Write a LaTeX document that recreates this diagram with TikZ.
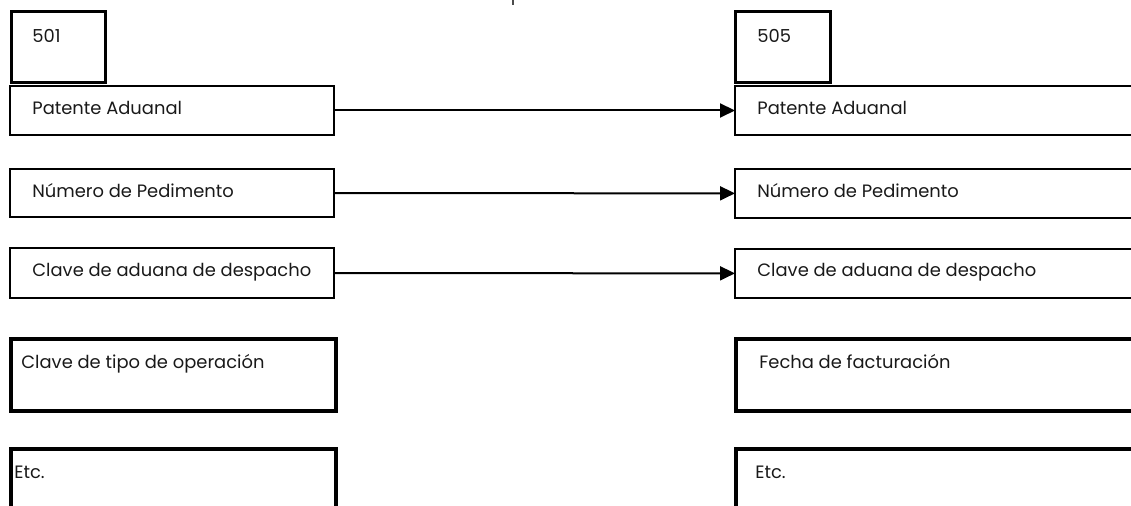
\documentclass[tikz,border=0pt]{standalone}
\usepackage{fontspec}
\setmainfont{Poppins}
\usetikzlibrary{arrows.meta}

\begin{document}
\begin{tikzpicture}[x=0.5pt, y=-0.5pt,
    campo/.style={shape=rectangle, draw=black, line width=1pt, anchor=north west,
      inner sep=0pt, outer sep=0pt, minimum width=162pt, minimum height=24.5pt},
    grueso/.style={campo, line width=1.7pt, minimum height=36pt},
    texto/.style={anchor=base west, inner sep=0pt, text=black!90, font=\fontsize{8.95pt}{11pt}\selectfont},
    flecha/.style={-{Triangle[length=7.5pt, width=7pt]}, line width=1pt}]
      \clip (0,0) rectangle (1131,506);

      % pedimento 501
      \node[campo, line width=1.5pt, minimum width=47pt, minimum height=35.5pt] (p501) at (11,12) {};
      \node[campo] (pa1) at (10,86) {};
      \node[campo, minimum height=24pt] (np1) at (10,169) {};
      \node[campo, minimum height=25pt] (cad1) at (10,248) {};
      \node[grueso, minimum width=162.5pt] (cto1) at (11,339) {};
      \node[grueso, minimum width=162.5pt, minimum height=45pt] (etc1) at (11,449) {};

      % pedimento 505
      \node[campo, line width=1.5pt, minimum width=47.5pt, minimum height=35.5pt] (p505) at (735,12) {};
      \node[campo, minimum width=215pt] (pa2) at (735,86) {};
      \node[campo, minimum width=215pt, minimum height=24.5pt] (np2) at (735,169) {};
      \node[campo, minimum width=215pt, minimum height=24.5pt] (cad2) at (735,249) {};
      \node[grueso, minimum width=215pt] (ff2) at (736,339) {};
      \node[grueso, minimum width=215pt, minimum height=45pt] (etc2) at (736,449) {};

      % textos
      \node[texto] (t501) at (32,43) {501};
      \node[texto] (t505) at (757,43) {505};
      \node[texto] (tpa1) at (32,115) {Patente Aduanal};
      \node[texto] (tpa2) at (757,115) {Patente Aduanal};
      \node[texto] (tnp1) at (32,198) {Número de Pedimento};
      \node[texto] (tnp2) at (757,198) {Número de Pedimento};
      \node[texto] (tcad1) at (32,277) {Clave de aduana de despacho};
      \node[texto] (tcad2) at (757,277) {Clave de aduana de despacho};
      \node[texto] (tcto1) at (21,369) {Clave de tipo de operación};
      \node[texto] (tff2) at (759,369) {Fecha de facturación};
      \node[texto] (tetc1) at (14,479) {Etc.};
      \node[texto] (tetc2) at (755,479) {Etc.};

      \path [flecha]  (pa1) edge (pa2);
      \path [flecha]  (np1) edge (np2);
      \path [flecha]  (cad1) edge (cad2);

      \draw[black!70, line width=1pt] (513,0) -- (513,5);
    \end{tikzpicture}
\end{document}
